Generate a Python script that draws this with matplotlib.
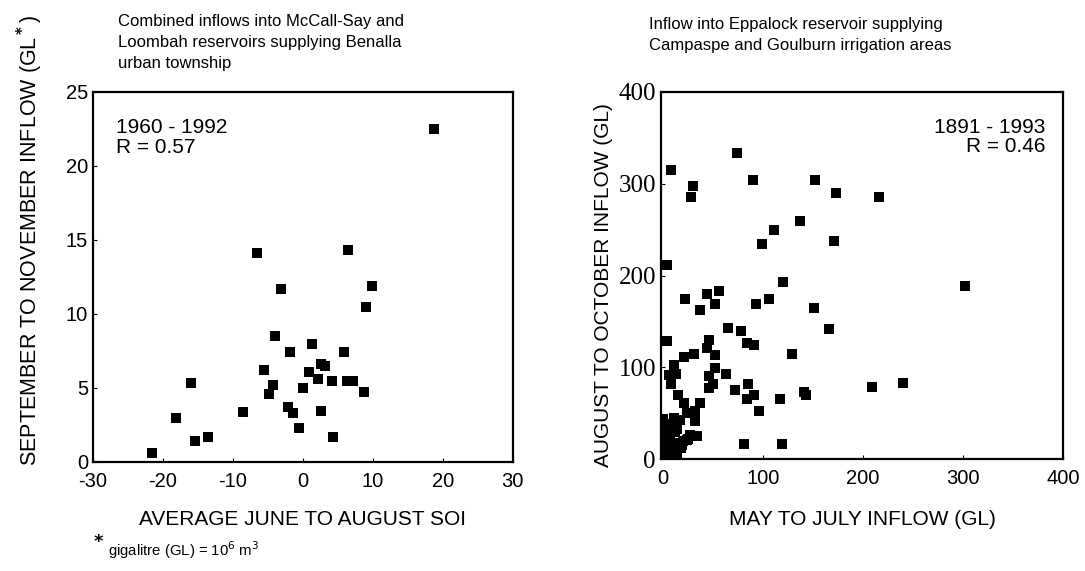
import matplotlib.pyplot as plt

plt.rcParams['font.family'] = ['Liberation Sans', 'DejaVu Sans']
plt.rcParams['axes.unicode_minus'] = False

# left panel: average June-August SOI vs Sep-Nov inflow (GL), 1960-1992
soi = [18.8, -6.5, 6.5, -3.1, 9.9, 9.0, -4.0, 1.3, -1.8, 5.9, 2.6, 3.2, -5.5,
       0.9, 2.2, 4.1, 6.3, 7.2, -16.0, -4.3, 0.0, -4.9, 8.7, -8.6, -2.1, -1.4,
       2.6, -18.2, -0.6, -13.5, 4.3, -15.4, -21.5]
benalla = [22.5, 14.1, 14.3, 11.7, 11.9, 10.45, 8.5, 7.95, 7.4, 7.4, 6.65, 6.5,
           6.2, 6.05, 5.6, 5.5, 5.5, 5.5, 5.3, 5.2, 5.0, 4.6, 4.75, 3.4, 3.7,
           3.3, 3.45, 2.95, 2.3, 1.7, 1.7, 1.4, 0.6]

# right panel: May-July inflow vs Aug-Oct inflow (GL), 1891-1993
may_jul = [74, 8, 30, 28, 90, 152, 173, 216, 137, 111, 99, 171, 4, 120, 302,
           22, 44, 56, 52, 37, 93, 106, 151, 166, 65, 78, 4, 46, 84, 91, 129,
           21, 31, 44, 52, 11, 13, 6, 8, 52, 46, 63, 46, 50, 85, 72, 91, 84,
           209, 240, 141, 143, 117, 96, 15, 21, 37, 24, 32, 17, 0, 11, 32, 34,
           24, 81, 119, 4, 7, 2, 6, 10, 14, 4, 16, 9, 1, 20, 25, 3, 12, 8, 18,
           1, 5, 14, 27, 19, 6]
aug_oct = [333, 315, 297, 285, 304, 304, 290, 286, 259, 250, 234, 238, 211,
           193, 189, 174, 180, 183, 169, 162, 169, 174, 165, 142, 143, 139,
           129, 130, 126, 124, 115, 111, 115, 121, 113, 102, 93, 92, 82, 99,
           90, 93, 77, 82, 82, 75, 70, 66, 78, 83, 73, 70, 65, 52, 70, 61, 61,
           50, 52, 43, 44, 45, 41, 25, 21, 16, 16, 30, 28, 3, 6, 10, 4, 13, 17,
           1, 21, 20, 22, 35, 30, 38, 12, 8, 24, 33, 26, 15, 18]

fig = plt.figure(figsize=(10.85, 5.71), dpi=100)

ax1 = fig.add_axes([0.0857, 0.191, 0.387, 0.648])
ax1.scatter(soi, benalla, marker='s', s=42, color='black', linewidths=0)
ax1.set_xlim(-30, 30)
ax1.set_ylim(0, 25)
ax1.set_xticks([-30, -20, -10, 0, 10, 20, 30])
ax1.set_yticks([0, 5, 10, 15, 20, 25])
ax1.tick_params(direction='in', length=3, labelsize=14.5, width=0.8)
ax1.tick_params(axis='x', pad=7)
ax1.set_xlabel('AVERAGE JUNE TO AUGUST SOI', fontsize=15, labelpad=14)
ax1.set_ylabel('SEPTEMBER TO NOVEMBER INFLOW (GL$^{\\bf *}$)', fontsize=15.5)
ax1.yaxis.set_label_coords(-0.114, 0.6)
ax1.text(0.055, 0.93, '1960 - 1992\nR = 0.57', transform=ax1.transAxes,
         fontsize=15, va='top', ha='left', linespacing=1.05)
ax1.set_title('Combined inflows into McCall-Say and\nLoombah reservoirs supplying Benalla\nurban township',
              fontsize=12, loc='left', x=0.06, pad=17, linespacing=1.5)
for sp in ax1.spines.values():
    sp.set_linewidth(1.6)

ax2 = fig.add_axes([0.609, 0.196, 0.371, 0.643])
ax2.scatter(may_jul, aug_oct, marker='s', s=42, color='black', linewidths=0)
ax2.set_xlim(-2, 400)
ax2.set_ylim(0, 400)
ax2.set_xticks([0, 100, 200, 300, 400])
ax2.set_yticks([0, 100, 200, 300, 400])
ax2.tick_params(direction='in', length=3, labelsize=14.5, width=0.8)
ax2.tick_params(axis='x', pad=7)
for lbl in ax2.get_yticklabels():
    lbl.set_family('Liberation Serif')
    lbl.set_fontsize(18)
ax2.set_xlabel('MAY TO JULY INFLOW (GL)', fontsize=15, labelpad=16)
ax2.set_ylabel('AUGUST TO OCTOBER INFLOW (GL)', fontsize=15)
ax2.yaxis.set_label_coords(-0.119, 0.474)
ax2.text(0.955, 0.93, '1891 - 1993\nR = 0.46', transform=ax2.transAxes,
         fontsize=15, va='top', ha='right', linespacing=1.05)
ax2.set_title('Inflow into Eppalock reservoir supplying\nCampaspe and Goulburn irrigation areas',
              fontsize=12, loc='left', x=-0.03, pad=30, linespacing=1.5)
for sp in ax2.spines.values():
    sp.set_linewidth(1.6)

fig.text(0.083, 0.038, '$\\bf *$', fontsize=13, ha='left', va='bottom')
fig.text(0.1, 0.018, 'gigalitre (GL) = 10$^6$ m$^3$', fontsize=10.7, ha='left', va='bottom')

fig.savefig('out.png', dpi=100)
